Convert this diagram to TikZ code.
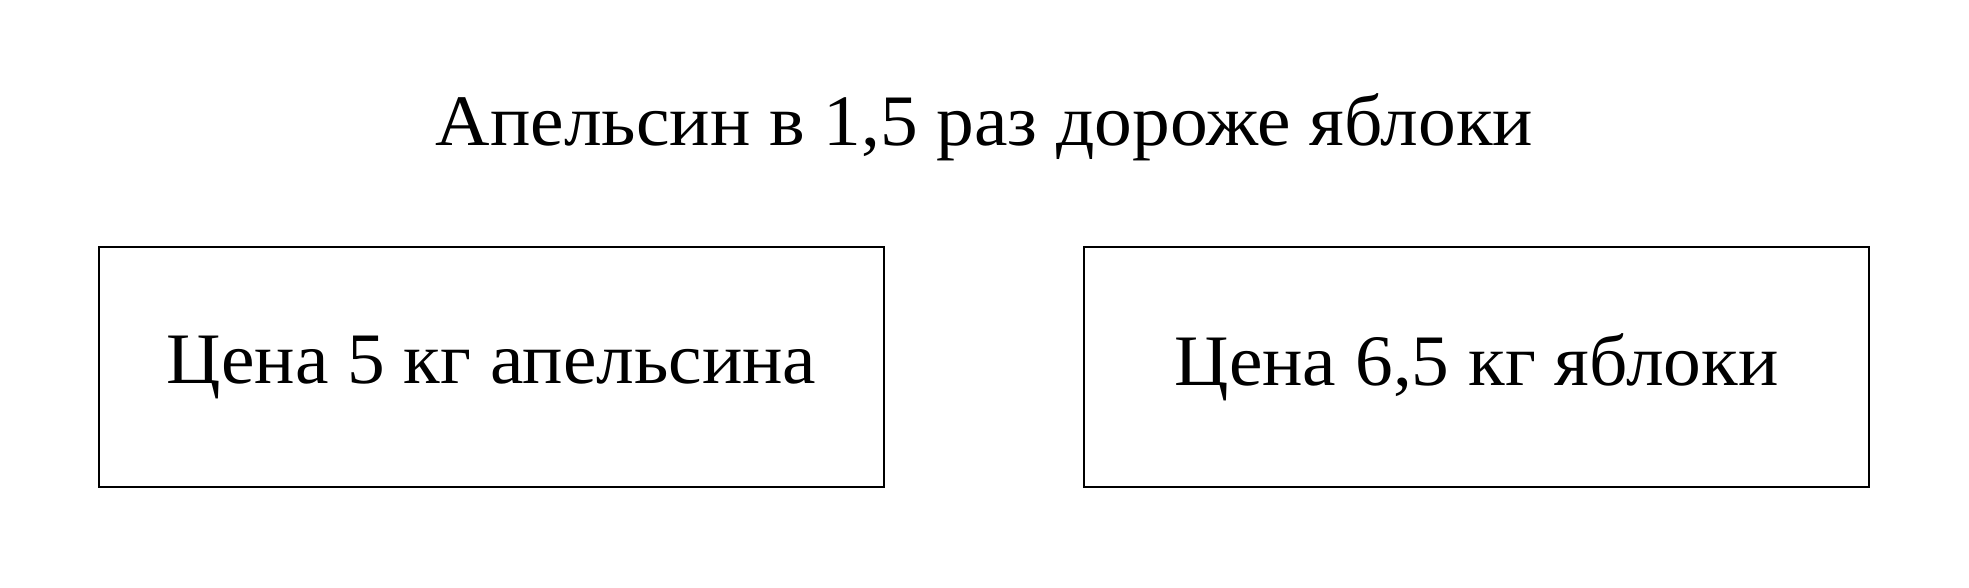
\documentclass[tikz,border=0pt]{standalone}
\usepackage{fontspec}
\setmainfont{Liberation Serif}[FakeStretch=1.04]
\begin{document}
\begin{tikzpicture}[x=0.32pt,y=-0.32pt,
  txt/.style={inner sep=0pt,font=\fontsize{23.2}{28}\selectfont},
  box/.style={draw,line width=0.8pt,minimum width=785*0.32pt,minimum height=240*0.32pt,inner sep=0pt,font=\fontsize{23.2}{28}\selectfont}]
\useasboundingbox (0,0) rectangle (1969,588);
\node[txt,anchor=base] (title) at (984.5,146) {Апельсин в 1,5 раз дороже яблоки};
\node[box] (left) at (491.5,367) {Цена 5 кг апельсина};
\node[box] (right) at (1476.5,367) {Цена 6,5 кг яблоки};
\end{tikzpicture}
\end{document}
